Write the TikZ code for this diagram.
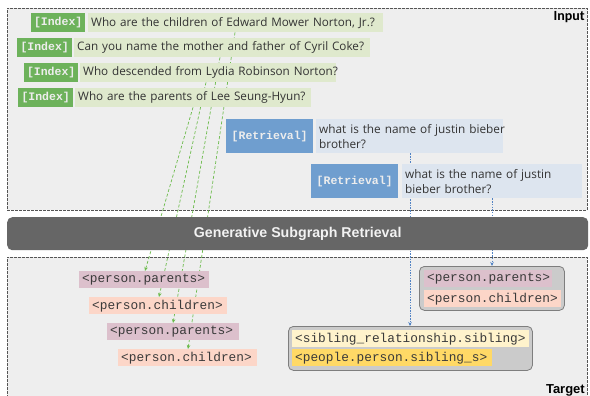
\documentclass[tikz,border=0pt]{standalone}
\usepackage{fontspec}
\setmainfont{Liberation Sans}
\newfontfamily\monof{Liberation Mono}
\newfontfamily\handf{Open Sans}
\newfontfamily\calf{Carlito}
\usetikzlibrary{calc,arrows.meta}
\pgfdeclarelayer{back}
\pgfdeclarelayer{mid}
\pgfsetlayers{back,mid,main}
\definecolor{panelfill}{HTML}{EEEEEE}
\definecolor{paneldraw}{HTML}{555555}
\definecolor{idxgreen}{HTML}{6DB25B}
\definecolor{qgreen}{HTML}{DFE9CD}
\definecolor{retblue}{HTML}{6F9ECF}
\definecolor{qblue}{HTML}{DDE5EF}
\definecolor{mauve}{HTML}{DCC0CC}
\definecolor{salmon}{HTML}{FCD6C8}
\definecolor{lyellow}{HTML}{FFF3CC}
\definecolor{dyellow}{HTML}{FFD966}
\definecolor{grpfill}{HTML}{CBCBCB}
\definecolor{grpdraw}{HTML}{7E7E7E}
\definecolor{barfill}{HTML}{666666}
\definecolor{glink}{HTML}{6CBB4C}
\definecolor{blink}{HTML}{5283C4}
\definecolor{reltext}{HTML}{3A3A3A}
\begin{document}
\begin{tikzpicture}[x=1pt,y=-1pt,
  panel/.style={fill=panelfill, draw=paneldraw, dashed, dash pattern=on 3pt off 1pt, line width=0.6pt},
  tagbox/.style={anchor=north west, inner sep=0pt, minimum height=19pt, text=white!93!black, font=\monof\bfseries\fontsize{11.5}{12}\selectfont},
  qbox/.style={anchor=north west, inner xsep=3pt, inner ysep=0pt, minimum height=19pt, align=left, fill=qgreen, text=black!80, font=\handf\fontsize{11.7}{15}\selectfont},
  rbox/.style={qbox, fill=qblue, minimum height=34pt, font=\handf\fontsize{11.8}{15}\selectfont},
  rel/.style={anchor=north west, inner xsep=3pt, inner ysep=0pt, minimum height=17pt, align=left, text=reltext, font=\monof\fontsize{12.8}{13}\selectfont},
  grp/.style={anchor=north west, fill=grpfill, draw=grpdraw, line width=0.8pt, rounded corners=5pt, inner sep=0pt},
  barst/.style={anchor=north west, fill=barfill, rounded corners=5pt, inner sep=0pt, text=white!95!black, font=\bfseries\fontsize{14.2}{15}\selectfont},
  glinkst/.style={draw=glink, line width=0.7pt, dash pattern=on 3pt off 2pt, -{Stealth[length=4pt,width=3.5pt]}},
  blinkst/.style={draw=blink, line width=1pt, dash pattern=on 1.5pt off 1.2pt, -{Stealth[length=4pt,width=3.5pt]}}
]
\useasboundingbox (0,0) rectangle (590,396);
% panels
\begin{pgfonlayer}{back}
\node[panel, anchor=north west, minimum width=580pt, minimum height=202pt] (inpanel) at (7,8) {};
\node[panel, anchor=north west, minimum width=580pt, minimum height=150pt] (tgtpanel) at (7,257) {};
\end{pgfonlayer}
\node[anchor=base east, inner sep=0pt, font=\calf\bfseries\fontsize{14}{14}\selectfont] (inlabel) at (585,21) {Input};
\node[anchor=base east, inner sep=0pt, font=\bfseries\fontsize{13}{14}\selectfont] (tgtlabel) at (585,393.5) {Target};

% bar
\node[barst, minimum width=581pt, minimum height=33pt] (gsr) at (7,217) {Generative Subgraph Retrieval};

% index rows
\node[tagbox, fill=idxgreen, minimum width=54pt] (i1) at (31,13) {[Index]};
\node[qbox, text width=289pt] (q1) at (88,13) {\mbox{Who are the children of Edward Mower Norton, Jr.?}};
\node[tagbox, fill=idxgreen, minimum width=55pt] (i2) at (17,38) {[Index]};
\node[qbox, text width=290pt] (q2) at (74,38) {\mbox{Can you name the mother and father of Cyril Coke?}};
\node[tagbox, fill=idxgreen, minimum width=54pt] (i3) at (24,63) {[Index]};
\node[qbox, text width=250pt] (q3) at (80,63) {\mbox{Who descended from Lydia Robinson Norton?}};
\node[tagbox, fill=idxgreen, minimum width=55pt] (i4) at (18,88) {[Index]};
\node[qbox, text width=230pt] (q4) at (75,88) {\mbox{Who are the parents of Lee Seung-Hyun?}};

% target chain
\node[rel, fill=mauve, text width=124pt] (p1) at (79,271) {<person.parents>};
\node[rel, fill=salmon, text width=132pt] (c1) at (89,297) {<person.children>};
\node[rel, fill=mauve, text width=126pt] (p2) at (107,323) {<person.parents>};
\node[rel, fill=salmon, text width=133pt] (c2) at (118,349) {<person.children>};

% groups
\node[grp, minimum width=145pt, minimum height=44pt] (g1) at (419,266) {};
\node[rel, fill=mauve, text width=122pt] (gp) at (424,270) {<person.parents>};
\node[rel, fill=salmon, text width=131pt] (gc) at (424,290) {<person.children>};
\node[grp, minimum width=244pt, minimum height=44pt] (g2) at (288,326) {};
\node[rel, fill=lyellow, text width=231pt] (gs) at (292,330) {<sibling\_relationship.sibling>};
\node[rel, fill=dyellow, text width=194pt] (gq) at (292,349) {<people.person.sibling\_s>};

% retrieval rows
\node[tagbox, fill=retblue, minimum width=87pt, minimum height=34pt] (r1) at (226,119) {[Retrieval]};
\node[rbox, text width=181pt] (s1) at (316,119) {\mbox{what is the name of justin bieber}\\brother?};
\node[tagbox, fill=retblue, minimum width=87pt, minimum height=34pt] (r2) at (311,164) {[Retrieval]};
\node[rbox, text width=174pt] (s2) at (402,164) {\mbox{what is the name of justin}\\bieber brother?};

% connectors (behind boxes)
\begin{pgfonlayer}{mid}
\draw[glinkst] ($(q1.south west)+(147,0)$) -- ($(c2.north west)+(70,0)$);
\draw[glinkst] ($(q2.south west)+(146,0)$) -- ($(p2.north west)+(66,0)$);
\draw[glinkst] ($(q3.south west)+(126,0)$) -- ($(c1.north west)+(70,0)$);
\draw[glinkst] ($(q4.south west)+(118,0)$) -- ($(p1.north west)+(66,0)$);
\draw[blinkst] ($(s1.south west)+(94,0)$) -- ($(g2.north west)+(122,0)$);
\draw[blinkst] ($(s2.south west)+(90,0)$) -- ($(g1.north west)+(73,0)$);
\end{pgfonlayer}
\end{tikzpicture}
\end{document}
